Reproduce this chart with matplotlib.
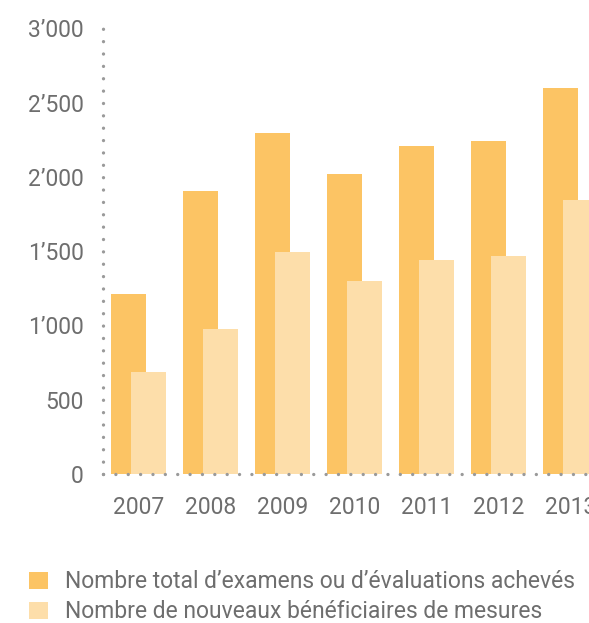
import matplotlib
matplotlib.use("Agg")
import matplotlib.pyplot as plt
import numpy as np

years = ["2007", "2008", "2009", "2010", "2011", "2012", "2013"]
total_exams = [1210, 1903, 2293, 2017, 2206, 2239, 2596]
new_beneficiaries = [686, 975, 1493, 1298, 1439, 1466, 1843]
yticks = [0, 500, 1000, 1500, 2000, 2500, 3000]
legend_labels = ["Nombre total d’examens ou d’évaluations achevés",
                 "Nombre de nouveaux bénéficiaires de mesures"]

dark = "#FCC464"
light = "#FDDEAA"
txt = "#6e6e6e"
dotc = "#9a9a9a"

plt.rcParams['font.family'] = ['Roboto', 'DejaVu Sans']

W, H = 589, 623
fig = plt.figure(figsize=(W/100, H/100), dpi=100)
left_px, right_px, bot_px, top_px = 103, 640, 474, 19
ax = fig.add_axes([left_px/W, (H-bot_px)/H, (right_px-left_px)/W, (bot_px-top_px)/H])

step = 72.0
c0 = 138.5
x = np.arange(len(years))
off = 10/step
bw = 35/step
b1 = ax.bar(x - off, total_exams, width=bw, color=dark, zorder=1, label=legend_labels[0])
b2 = ax.bar(x + off, new_beneficiaries, width=bw, color=light, zorder=1.1, label=legend_labels[1])

ax.set_xlim((left_px - c0)/step, (right_px - c0)/step)
scale = (474 - 28.3) / 3000
ax.set_ylim(0, (bot_px - top_px)/scale)

for s in ['top', 'right']:
    ax.spines[s].set_visible(False)
for s in ['left', 'bottom']:
    sp = ax.spines[s]
    sp.set_color(dotc)
    sp.set_linewidth(2.4)
    sp.set_linestyle((0, (0.01, 3.7)))
    sp.set_capstyle('round')
    sp.set_zorder(3)

def fmt(v):
    return f"{v//1000}’{v%1000:03d}" if v >= 1000 else str(v)

ax.set_yticks(yticks)
ax.set_yticklabels([fmt(v) for v in yticks])
ax.set_xticks(x)
ax.set_xticklabels(years)
ax.tick_params(axis='both', length=0, labelsize=16.5, labelcolor=txt)
ax.tick_params(axis='y', pad=14)
ax.tick_params(axis='x', pad=16)

leg = fig.legend(handles=[b1, b2], labels=legend_labels, loc='upper left',
                 bbox_to_anchor=(18/W, 1 - 559/H), frameon=False,
                 fontsize=16.5, handlelength=0.8, handleheight=0.8,
                 handletextpad=0.75, labelspacing=0.3, borderpad=0)
for t in leg.get_texts():
    t.set_color(txt)

fig.savefig("out.png", dpi=100)
